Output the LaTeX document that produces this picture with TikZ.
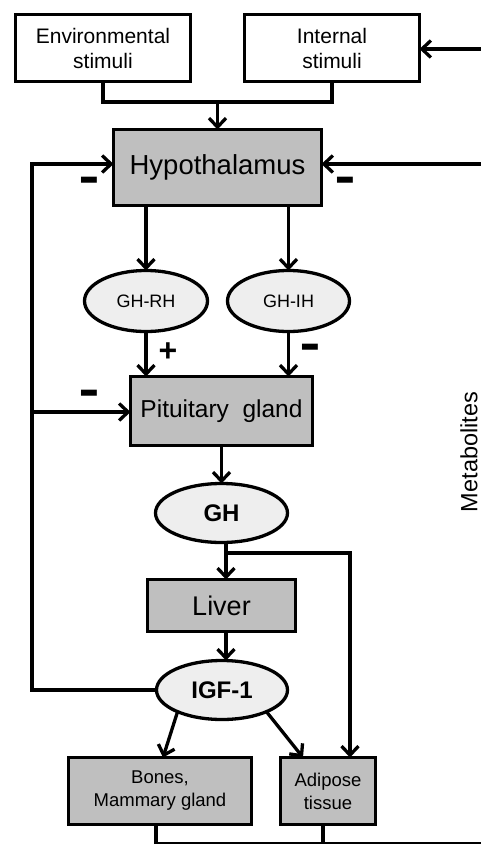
\documentclass[tikz,border=0pt]{standalone}
\usepackage{fontspec}
\usepackage{graphicx}
\setmainfont{Liberation Sans}
\usetikzlibrary{arrows.meta,shapes.geometric}
\definecolor{boxgray}{HTML}{BFBFBF}
\definecolor{ellgray}{HTML}{EEEEEE}
\tikzset{
  every node/.style={inner sep=0pt, outer sep=0pt},
  wbox/.style={draw, line width=3.3pt, fill=white, align=center, font=\fontsize{21}{25}\selectfont},
  gbox/.style={draw, line width=3.3pt, fill=boxgray, align=center},
  oval/.style={draw, ellipse, line width=3.3pt, fill=ellgray, align=center},
  arr/.style={line width=3.3pt, -{Straight Barb[length=9pt,width=17pt]}},
  conn/.style={line width=3.3pt},
  sign/.style={font=\fontsize{32}{32}\selectfont\bfseries},
}
\newcommand{\heavydash}{\scalebox{1}[1.9]{–}}
\begin{document}
\begin{tikzpicture}[x=1pt,y=-1pt]
\useasboundingbox (0,0) rectangle (481,844);
\clip (0,0) rectangle (481,844);
\fill[white] (0,0) rectangle (481,844);

% nodes
\node[wbox, minimum width=175pt, minimum height=67pt] (env) at (103,48) {Environmental\\stimuli};
\node[wbox, minimum width=175pt, minimum height=67pt] (int) at (332,48) {Internal\\stimuli};
\node[gbox, minimum width=208pt, minimum height=76pt, font=\fontsize{27.5}{30}\selectfont] (hyp) at (217.5,167.5) {Hypothalamus};
\node[oval, minimum width=123pt, minimum height=61pt, font=\fontsize{18}{20}\selectfont] (ghrh) at (146,301) {GH-RH};
\node[oval, minimum width=122pt, minimum height=61pt, font=\fontsize{18}{20}\selectfont] (ghih) at (288.5,301) {GH-IH};
\node[gbox, minimum width=182pt, minimum height=69pt, font=\fontsize{24.5}{28}\selectfont] (pit) at (221.5,411) {Pituitary\ \ gland};
\node[oval, minimum width=132pt, minimum height=59pt, font=\fontsize{24}{26}\selectfont\bfseries] (gh) at (221.5,513) {GH};
\node[gbox, minimum width=148pt, minimum height=52pt, font=\fontsize{27}{30}\selectfont] (liver) at (221.5,605.5) {Liver};
\node[oval, minimum width=131pt, minimum height=59pt, font=\fontsize{24}{26}\selectfont\bfseries] (igf) at (222,690) {IGF-1};
\node[gbox, minimum width=183pt, minimum height=67pt, font=\fontsize{18.5}{23}\selectfont] (bones) at (160,791) {Bones,\\Mammary gland};
\node[gbox, minimum width=95pt, minimum height=67pt, font=\fontsize{18.5}{23}\selectfont] (adip) at (328,791) {Adipose\\tissue};
\node[rotate=90, font=\fontsize{23.5}{26}\selectfont] (met) at (469,452) {Metabolites};

% stimuli to hypothalamus
\coordinate (join) at (217.5,102);
\draw[conn] (env.south) |- (join) -| (int.south);
\draw[arr] (join) -- (hyp.north);

% right-side inputs
\coordinate (rint) at (490,49);
\draw[arr] (rint) -- (rint -| int.east);
\coordinate (rhyp) at (490,164);
\draw[arr] (rhyp) -- (rhyp -| hyp.east);

% left feedback from IGF-1
\coordinate (fbT) at (32,164);
\coordinate (fbB) at (32,690);
\draw[arr] (igf.west) -- (fbB) -- (fbT) -- (fbT -| hyp.west);
\draw[arr] (fbB |- 0,412) -- (pit.west |- 0,412);

% hypothalamus to releasing/inhibiting hormones
\draw[arr] (hyp.south -| ghrh.north) -- (ghrh.north);
\draw[arr] (hyp.south -| ghih.north) -- (ghih.north);
\draw[arr] (ghrh.south) -- (pit.north -| ghrh.south);
\draw[arr] (ghih.south) -- (pit.north -| ghih.south);

% pituitary to GH to liver
\draw[arr] (pit.south) -- (gh.north);
\coordinate (br) at (226,553);
\draw[arr] (gh.south -| br) -- (liver.north -| br);
\draw[arr] (br) -| ([xshift=22pt]adip.north);
\draw[arr] (liver.south -| br) -- (igf.north -| br);

% IGF-1 to targets
\draw[arr] (igf.206) -- ([xshift=3pt]bones.north);
\draw[arr] (igf.334) -- ([xshift=-25pt]adip.north);

% bottom metabolite lines
\coordinate (bl) at (156,844);
\coordinate (br2) at (323,844);
\draw[conn] (bones.south -| bl) -- (bl) -- (490,844);
\draw[conn] (adip.south -| br2) -- (br2);

% signs
\node[sign] (m1) at (89,187) {\heavydash};
\node[sign] (m2) at (345,187) {\heavydash};
\node[sign] (p1) at (168,352) {+};
\node[sign] (m3) at (310,354) {\heavydash};
\node[sign] (m4) at (89,400) {\heavydash};
\end{tikzpicture}
\end{document}
